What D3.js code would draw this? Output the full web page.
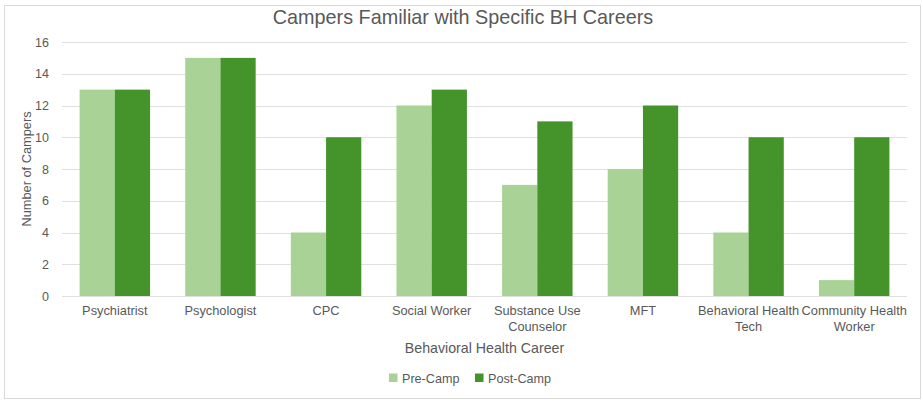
<!DOCTYPE html>
<html><head><meta charset="utf-8">
<script src="https://cdn.jsdelivr.net/npm/d3@7"></script>
<style>body{margin:0;background:#fff;font-family:"Liberation Sans",Arial,sans-serif;}</style>
</head><body><svg id="c" width="923" height="413"></svg>
<script>
const categories = ["Psychiatrist","Psychologist","CPC","Social Worker","Substance Use Counselor","MFT","Behavioral Health Tech","Community Health Worker"];
const categoryLines = [["Psychiatrist"],["Psychologist"],["CPC"],["Social Worker"],["Substance Use","Counselor"],["MFT"],["Behavioral Health","Tech"],["Community Health","Worker"]];
const seriesNames = ["Pre-Camp","Post-Camp"];
const preCamp = [13,15,4,12,7,8,4,1];
const postCamp = [13,15,10,13,11,12,10,10];
const yTicks = [0,2,4,6,8,10,12,14,16];
const colors = ["#a9d396","#44932b"];

const svg = d3.select("#c");
const m = {left:62, right:907, top:42, bottom:296};
svg.append("rect").attr("x",4.5).attr("y",5.5).attr("width",916).attr("height",393)
  .attr("fill","#fff").attr("stroke","#d9d9d9");

const x = d3.scaleBand().domain(categories).range([m.left,m.right]).paddingInner(0.333).paddingOuter(0.1665);
const xs = d3.scaleBand().domain(seriesNames).range([0,x.bandwidth()]);
const y = d3.scaleLinear().domain([0,16]).range([m.bottom,m.top]);

// grid
svg.append("g").selectAll("line").data(yTicks).join("line")
  .attr("x1",m.left).attr("x2",m.right)
  .attr("y1",d=>Math.round(y(d))+0.5).attr("y2",d=>Math.round(y(d))+0.5)
  .attr("stroke","#e0e0e0").attr("stroke-width",1);

// y axis labels
const yAxis = d3.axisLeft(y).tickValues(yTicks).tickSize(0).tickPadding(0);
const ya = svg.append("g").attr("transform",`translate(${m.left-13},0)`).call(yAxis);
ya.select(".domain").remove();
ya.selectAll("text").attr("fill","#595959").style("font-size","12.5px").style("font-family","Liberation Sans, Arial, sans-serif");

// bars
const data = categories.map((c,i)=>({c, vals:[preCamp[i],postCamp[i]]}));
const g = svg.append("g").selectAll("g").data(data).join("g").attr("transform",d=>`translate(${x(d.c)},0)`);
g.selectAll("rect").data(d=>d.vals.map((v,j)=>({v,s:seriesNames[j],j}))).join("rect")
  .attr("x",d=>xs(d.s)).attr("width",xs.bandwidth())
  .attr("y",d=>y(d.v)).attr("height",d=>y(0)-y(d.v))
  .attr("fill",d=>colors[d.j]);

// x labels
const xl = svg.append("g");
categories.forEach((c,i)=>{
  const cx = x(c)+x.bandwidth()/2;
  const t = xl.append("text").attr("x",cx).attr("y",315)
    .attr("text-anchor","middle").attr("fill","#595959").style("font-size","12.8px");
  categoryLines[i].forEach((ln,k)=>t.append("tspan").attr("x",cx).attr("dy",k?15.5:0).text(ln));
});

// titles
svg.append("text").attr("x",463).attr("y",24).attr("text-anchor","middle")
  .attr("fill","#595959").style("font-size","19.8px").text("Campers Familiar with Specific BH Careers");
svg.append("text").attr("x",484.5).attr("y",353).attr("text-anchor","middle")
  .attr("fill","#595959").style("font-size","14.2px").text("Behavioral Health Career");
svg.append("text").attr("transform",`translate(31,${(m.top+m.bottom)/2}) rotate(-90)`).attr("text-anchor","middle")
  .attr("fill","#595959").style("font-size","12.8px").text("Number of Campers");

// legend
const leg = svg.append("g");
const lx = [389,475];
seriesNames.forEach((s,i)=>{
  leg.append("rect").attr("x",lx[i]).attr("y",373.5).attr("width",8.5).attr("height",8.5).attr("fill",colors[i]);
  leg.append("text").attr("x",lx[i]+13).attr("y",383).attr("fill","#595959").style("font-size","12.6px").text(s);
});
</script></body></html>
